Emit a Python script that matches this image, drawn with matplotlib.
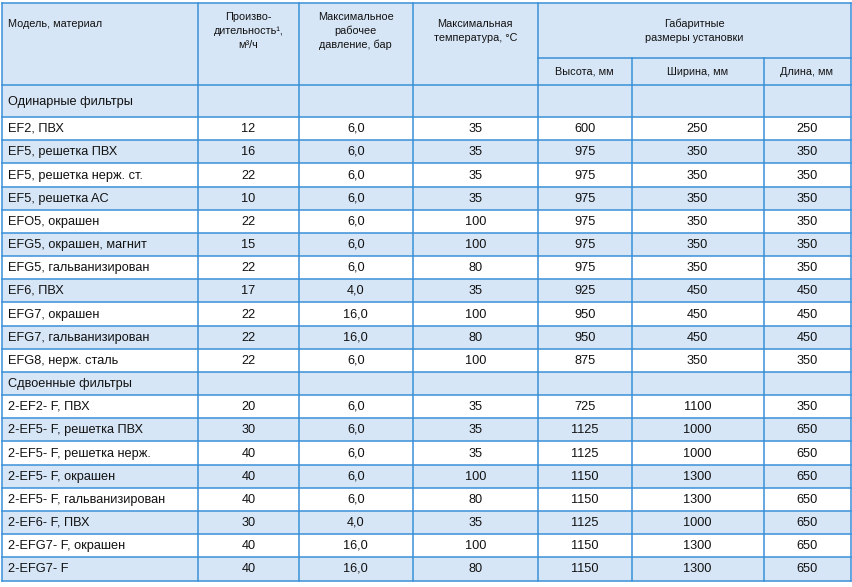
import matplotlib
matplotlib.use("Agg")
import matplotlib.pyplot as plt
from matplotlib.patches import Rectangle
from matplotlib.font_manager import FontProperties, fontManager, get_font
from matplotlib.backends.backend_agg import get_hinting_flag

plt.rcParams['font.family'] = ['Liberation Sans', 'DejaVu Sans']

# ---- data ----
models_single = ["EF2, ПВХ", "EF5, решетка ПВХ", "EF5, решетка нерж. ст.", "EF5, решетка AC",
                 "EFO5, окрашен", "EFG5, окрашен, магнит", "EFG5, гальванизирован", "EF6, ПВХ",
                 "EFG7, окрашен", "EFG7, гальванизирован", "EFG8, нерж. сталь"]
flow_single = ["12", "16", "22", "10", "22", "15", "22", "17", "22", "22", "22"]
pressure_single = ["6,0", "6,0", "6,0", "6,0", "6,0", "6,0", "6,0", "4,0", "16,0", "16,0", "6,0"]
temp_single = ["35", "35", "35", "35", "100", "100", "80", "35", "100", "80", "100"]
height_single = ["600", "975", "975", "975", "975", "975", "975", "925", "950", "950", "875"]
width_single = ["250", "350", "350", "350", "350", "350", "350", "450", "450", "450", "350"]
length_single = ["250", "350", "350", "350", "350", "350", "350", "450", "450", "450", "350"]

models_double = ["2-EF2- F, ПВХ", "2-EF5- F, решетка ПВХ", "2-EF5- F, решетка нерж.",
                 "2-EF5- F, окрашен", "2-EF5- F, гальванизирован", "2-EF6- F, ПВХ",
                 "2-EFG7- F, окрашен", "2-EFG7- F"]
flow_double = ["20", "30", "40", "40", "40", "30", "40", "40"]
pressure_double = ["6,0", "6,0", "6,0", "6,0", "6,0", "4,0", "16,0", "16,0"]
temp_double = ["35", "35", "35", "100", "80", "35", "100", "80"]
height_double = ["725", "1125", "1125", "1150", "1150", "1125", "1150", "1150"]
width_double = ["1100", "1000", "1000", "1300", "1300", "1000", "1300", "1300"]
length_double = ["350", "650", "650", "650", "650", "650", "650", "650"]

section_labels = ["Одинарные фильтры", "Сдвоенные фильтры"]
header_main = [["Модель, материал"], ["Произво-", "дительность¹,", "м³/ч"],
               ["Максимальное", "рабочее", "давление, бар"], ["Максимальная", "температура, °C"],
               ["Габаритные", "размеры установки"]]
header_sub = ["Высота, мм", "Ширина, мм", "Длина, мм"]

# ---- layout ----
W, H = 852, 587
DPI = 100
fig = plt.figure(figsize=(W / DPI, H / DPI), dpi=DPI)
ax = fig.add_axes([0, 0, 1, 1])
ax.set_xlim(0, W)
ax.set_ylim(H, 0)
ax.axis('off')

BLUE = '#d7e6f6'
LINE = '#3a90d8'
TXT = '#111111'
lw = 1.1

col_x = [1.5, 198, 299, 412.5, 538, 631.5, 763.5, 850.5]
top = 2.5
sub_y = 58
head_bot = 85
sec1_bot = 117
row_h = (580.5 - 117) / 20


def cap_half(size):
    return 0.716 * size * DPI / 72 / 2


def snapped_baseline(s, size, target):
    """Baseline y (data = pixel rows, top-down) so the rasterised text sits on row `target`."""
    try:
        prop = FontProperties(family=plt.rcParams['font.family'], size=size)
        font = get_font(fontManager._find_fonts_by_props(prop))
        font.clear()
        font.set_size(size, DPI)
        font.set_text(s, 0, flags=get_hinting_flag())
        d = font.get_descent() / 64.0
        hgt = font.get_width_height()[1] / 64.0
        ymax = hgt - d
        return target - 1 + int(ymax + d) - int(ymax) - d
    except Exception:
        return target


def put(x, yc, s, size, ha):
    target = round(yc + cap_half(size))
    yb = snapped_baseline(s, size, target)
    ax.text(x, yb, s, ha=ha, va='baseline', fontsize=size, color=TXT)


rows = []
rows.append(("section", section_labels[0], None))
for i in range(len(models_single)):
    rows.append(("data", models_single[i], [flow_single[i], pressure_single[i], temp_single[i],
                                           height_single[i], width_single[i], length_single[i]]))
rows.append(("section", section_labels[1], None))
for i in range(len(models_double)):
    rows.append(("data", models_double[i], [flow_double[i], pressure_double[i], temp_double[i],
                                           height_double[i], width_double[i], length_double[i]]))

bounds = [head_bot, sec1_bot]
for k in range(1, len(rows)):
    bounds.append(sec1_bot + k * row_h)

ax.add_patch(Rectangle((col_x[0], top), col_x[-1] - col_x[0], head_bot - top,
                       facecolor=BLUE, edgecolor='none', zorder=0))

fs = 9.2
for k, (kind, label, vals) in enumerate(rows):
    y0, y1 = bounds[k], bounds[k + 1]
    if k % 2 == 0:
        ax.add_patch(Rectangle((col_x[0], y0), col_x[-1] - col_x[0], y1 - y0,
                               facecolor=BLUE, edgecolor='none', zorder=0))
    yc = (y0 + y1) / 2
    put(col_x[0] + 6, yc, label, fs, 'left')
    if vals is not None:
        for j, v in enumerate(vals):
            put((col_x[j + 1] + col_x[j + 2]) / 2, yc, v, fs, 'center')

for b in bounds:
    ax.plot([col_x[0], col_x[-1]], [b, b], color=LINE, lw=lw, solid_capstyle='projecting', zorder=2)
ax.plot([col_x[0], col_x[-1]], [top, top], color=LINE, lw=lw, zorder=2)
ax.plot([col_x[4], col_x[-1]], [sub_y, sub_y], color=LINE, lw=lw, zorder=2)
for j, x in enumerate(col_x):
    if j in (5, 6):
        ax.plot([x, x], [sub_y, bounds[-1]], color=LINE, lw=lw, zorder=2)
    else:
        ax.plot([x, x], [top, bounds[-1]], color=LINE, lw=lw, zorder=2)

hs = 7.8
header_y = [[24], [17.5, 31.5, 45.5], [17, 31, 45], [24, 38], [24.5, 38.5]]
header_x = [col_x[0] + 6, (col_x[1] + col_x[2]) / 2, (col_x[2] + col_x[3]) / 2,
            (col_x[3] + col_x[4]) / 2, (col_x[4] + col_x[-1]) / 2]
for c, lines in enumerate(header_main):
    for ln, yy in zip(lines, header_y[c]):
        put(header_x[c], yy, ln, hs, 'left' if c == 0 else 'center')
for j, s in enumerate(header_sub):
    put((col_x[4 + j] + col_x[5 + j]) / 2, 72, s, hs, 'center')

fig.savefig("out.png", dpi=DPI, facecolor='white')
